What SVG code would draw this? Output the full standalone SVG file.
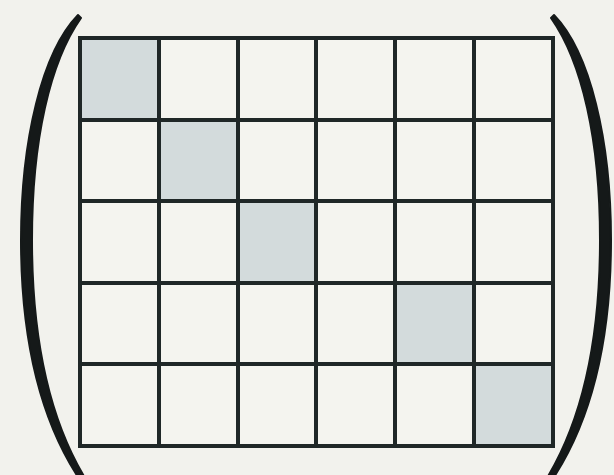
<svg xmlns="http://www.w3.org/2000/svg" width="614" height="475" viewBox="0 0 614 475">
<defs>
<style>
.bg{fill:#f2f2ed}
.cell{fill:#f4f4ef}
.hi{fill:#d3dbdc}
.grid{stroke:#1f2727;stroke-width:4;fill:none;stroke-linecap:square}
.paren{fill:#151919;stroke:#151919;stroke-width:2;stroke-linejoin:round}
</style>
<path id="lp" d="M 78 15 C 42 52, 21 140, 21 240 C 21 340, 40 420, 80 480 L 85 478 C 50 420, 32 340, 32 240 C 32 140, 50 62, 81 18 Z"/>
</defs>
<rect class="bg" x="0" y="0" width="614" height="475"/>
<g id="matrix">
<rect class="cell" x="80" y="38" width="473" height="408"/>
<rect class="hi" x="80" y="38" width="79" height="82"/>
<rect class="hi" x="159" y="120" width="79" height="81"/>
<rect class="hi" x="238" y="201" width="78" height="82"/>
<rect class="hi" x="395" y="283" width="79" height="81"/>
<rect class="hi" x="474" y="364" width="79" height="82"/>
<path class="grid" d="M80 38 H553 V446 H80 Z M159 38 V446 M238 38 V446 M316 38 V446 M395 38 V446 M474 38 V446 M80 120 H553 M80 201 H553 M80 283 H553 M80 364 H553"/>
</g>
<g id="left-paren"><use href="#lp" class="paren"/></g>
<g id="right-paren"><use href="#lp" class="paren" transform="translate(632,0) scale(-1,1)"/></g>
</svg>
